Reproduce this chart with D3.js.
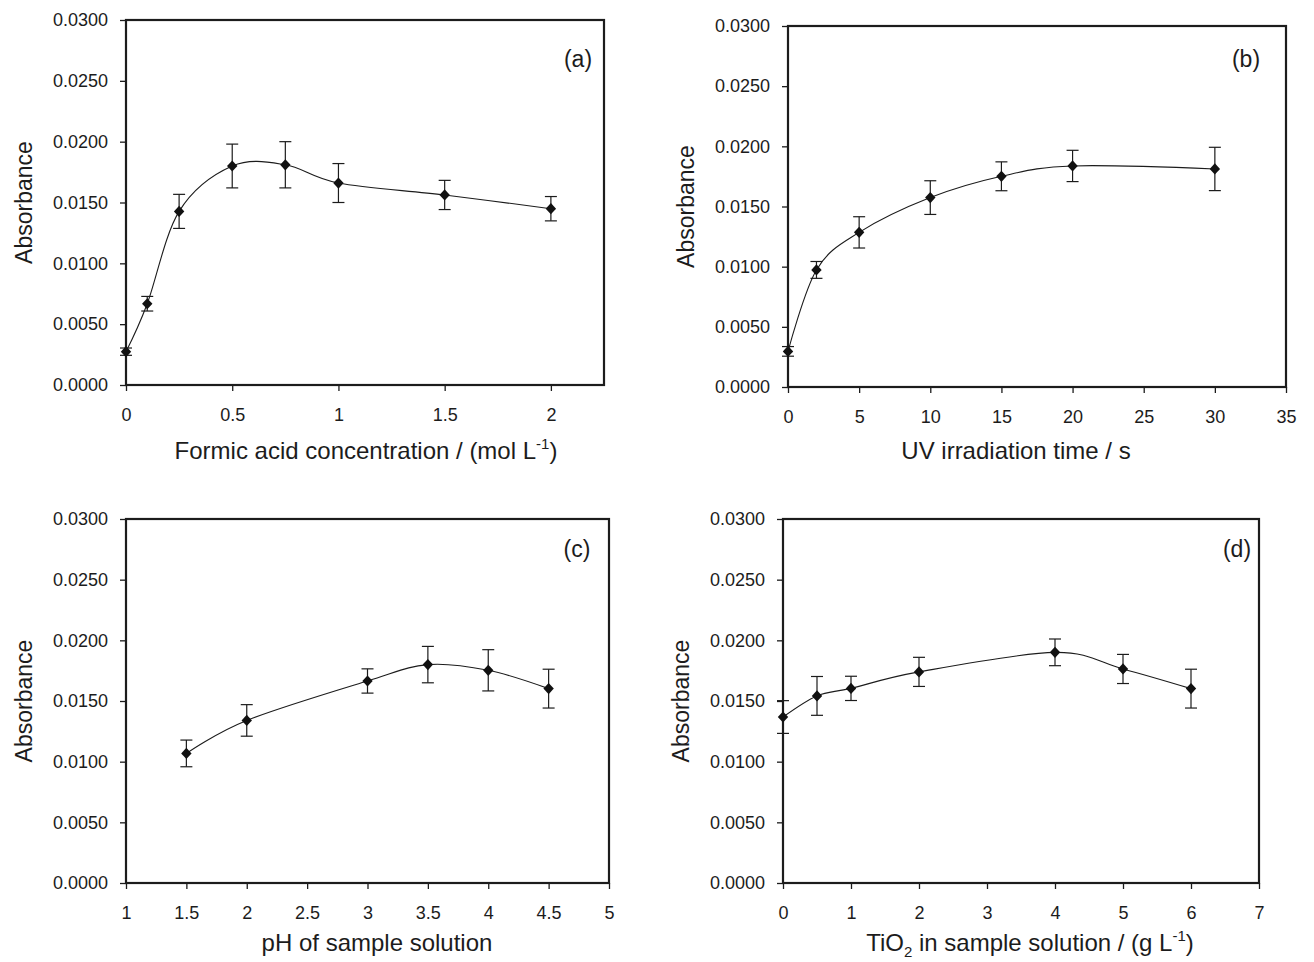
<!DOCTYPE html>
<html>
<head>
<meta charset="utf-8">
<script src="https://cdn.jsdelivr.net/npm/d3@7.9.0/dist/d3.min.js"></script>
<style>
  body { margin: 0; background: #fff; }
  svg { display: block; font-family: "Liberation Sans", Arial, sans-serif; }
</style>
</head>
<body>
<svg id="chart" width="1314" height="962"></svg>
<script>
// (a) formic acid
const formicX = [0, 0.1, 0.25, 0.5, 0.75, 1, 1.5, 2];
const formicY = [0.00274, 0.00668, 0.01427, 0.0180, 0.0181, 0.0166, 0.01562, 0.01449];
const formicErr = [0.0003, 0.0006, 0.0014, 0.0018, 0.0019, 0.0016, 0.0012, 0.0010];
const formicTicks = [0, 0.5, 1, 1.5, 2];

// (b) UV irradiation time
const uvX = [0, 2, 5, 10, 15, 20, 30];
const uvY = [0.00296, 0.00973, 0.01285, 0.01574, 0.01751, 0.01837, 0.01812];
const uvErr = [0.0004, 0.0007, 0.0013, 0.0014, 0.0012, 0.0013, 0.0018];
const uvTicks = [0, 5, 10, 15, 20, 25, 30, 35];

// (c) pH
const phX = [1.5, 2, 3, 3.5, 4, 4.5];
const phY = [0.01068, 0.0134, 0.01665, 0.0180, 0.01753, 0.01602];
const phErr = [0.0011, 0.0013, 0.0010, 0.0015, 0.0017, 0.0016];
const phTicks = [1, 1.5, 2, 2.5, 3, 3.5, 4, 4.5, 5];

// (d) TiO2
const tioX = [0, 0.5, 1, 2, 4, 5, 6];
const tioY = [0.01368, 0.01542, 0.01604, 0.0174, 0.01901, 0.01764, 0.01602];
const tioErr = [0.00135, 0.0016, 0.0010, 0.0012, 0.0011, 0.0012, 0.0016];
const tioTicks = [0, 1, 2, 3, 4, 5, 6, 7];

const yTicks = [0, 0.005, 0.010, 0.015, 0.020, 0.025, 0.030];
const yLabel = "Absorbance";

const ink = "#1c1c1c";
const svg = d3.select("#chart");

// panel layout (pixel boxes of the plot areas)
const panels = [
  { xs: formicX, ys: formicY, es: formicErr, ticks: formicTicks, xdom: [0, 2.25],
    box: [126, 604, 20, 385], tag: "(a)", tagPos: [578, 67],
    title: [{ t: "Formic acid concentration / (mol L" }, { t: "-1", sup: true }, { t: ")" }], titlePos: [366, 459] },
  { xs: uvX, ys: uvY, es: uvErr, ticks: uvTicks, xdom: [0, 35],
    box: [788, 1286, 26, 387], tag: "(b)", tagPos: [1246, 67],
    title: [{ t: "UV irradiation time / s" }], titlePos: [1016, 459] },
  { xs: phX, ys: phY, es: phErr, ticks: phTicks, xdom: [1, 5],
    box: [126, 609, 519, 883], tag: "(c)", tagPos: [577, 557],
    title: [{ t: "pH of sample solution" }], titlePos: [377, 951] },
  { xs: tioX, ys: tioY, es: tioErr, ticks: tioTicks, xdom: [0, 7],
    box: [783, 1259, 519, 883], tag: "(d)", tagPos: [1237, 557],
    title: [{ t: "TiO" }, { t: "2", sub: true }, { t: " in sample solution / (g L" }, { t: "-1", sup: true }, { t: ")" }], titlePos: [1030, 951] }
];

// square diamond like the spreadsheet marker
const diamond = "M0,-5.6L5.2,0L0,5.6L-5.2,0Z";

panels.forEach(p => {
  const [l, r, t, b] = p.box;
  const x = d3.scaleLinear().domain(p.xdom).range([l, r]);
  const y = d3.scaleLinear().domain([0, 0.03]).range([b, t]);
  const g = svg.append("g");

  // axes
  const yAxis = g.append("g").attr("transform", `translate(${l},0)`)
    .call(d3.axisLeft(y).tickValues(yTicks).tickFormat(d3.format(".4f")).tickSize(6).tickPadding(12));
  const xAxis = g.append("g").attr("transform", `translate(0,${b})`)
    .call(d3.axisBottom(x).tickValues(p.ticks).tickFormat(d3.format("")).tickSize(6).tickPadding(17));
  [yAxis, xAxis].forEach(a => {
    a.select(".domain").remove();
    a.selectAll(".tick line").attr("stroke", ink).attr("stroke-width", 1.3);
    a.selectAll(".tick text").attr("fill", ink).style("font-size", "18px");
  });

  // frame
  g.append("rect").attr("x", l).attr("y", t).attr("width", r - l).attr("height", b - t)
    .attr("fill", "none").attr("stroke", ink).attr("stroke-width", 2.2);

  const pts = p.xs.map((v, i) => ({ x: v, y: p.ys[i], e: p.es[i] }));

  // smoothed line
  g.append("path").datum(pts)
    .attr("fill", "none").attr("stroke", ink).attr("stroke-width", 1.1)
    .attr("d", d3.line().x(d => x(d.x)).y(d => y(d.y)).curve(d3.curveCardinal.tension(0)));

  // error bars
  const eb = g.append("g").attr("stroke", ink).attr("stroke-width", 1.2);
  pts.forEach(d => {
    const cx = x(d.x), y1 = y(d.y + d.e), y2 = y(d.y - d.e);
    eb.append("line").attr("x1", cx).attr("x2", cx).attr("y1", y1).attr("y2", y2);
    eb.append("line").attr("x1", cx - 6).attr("x2", cx + 6).attr("y1", y1).attr("y2", y1);
    eb.append("line").attr("x1", cx - 6).attr("x2", cx + 6).attr("y1", y2).attr("y2", y2);
  });

  // markers
  g.selectAll(".pt").data(pts).join("path")
    .attr("transform", d => `translate(${x(d.x)},${y(d.y)})`)
    .attr("d", diamond).attr("fill", "#111");

  // panel tag
  g.append("text").attr("x", p.tagPos[0]).attr("y", p.tagPos[1])
    .attr("text-anchor", "middle").attr("fill", ink).style("font-size", "23px").text(p.tag);

  // y title
  g.append("text")
    .attr("transform", `translate(${l - 94},${(t + b) / 2}) rotate(-90)`)
    .attr("text-anchor", "middle").attr("fill", ink).style("font-size", "23px").text(yLabel);

  // x title with sub/superscripts
  const tt = g.append("text").attr("x", p.titlePos[0]).attr("y", p.titlePos[1])
    .attr("text-anchor", "middle").attr("fill", ink).style("font-size", "24px");
  let shift = 0;
  p.title.forEach(s => {
    const target = s.sup ? -10 : s.sub ? 6 : 0;
    tt.append("tspan").attr("dy", target - shift)
      .style("font-size", (s.sup || s.sub) ? "15px" : null).text(s.t);
    shift = target;
  });
});
</script>
</body>
</html>
